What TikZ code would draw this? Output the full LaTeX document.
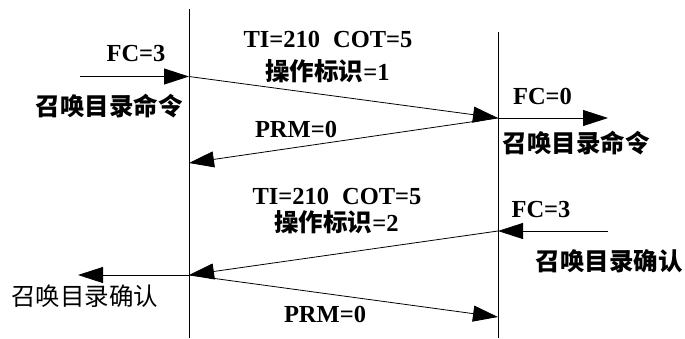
\documentclass[tikz,border=0pt]{standalone}
\usepackage{fontspec}
\setmainfont{Liberation Serif}
\newfontfamily\cjk{Noto Sans CJK SC}
\usetikzlibrary{arrows.meta}
\begin{document}
\begin{tikzpicture}[x=1pt,y=-1pt,
  lane/.style={line width=0.8pt},
  msg/.style={line width=0.8pt,-{Triangle[length=25pt,width=16pt]}},
  lbl/.style={inner sep=0pt,font=\fontsize{24.5}{28}\selectfont\bfseries},
  cjkb/.style={inner sep=0pt,font=\fontsize{24.5}{28}\selectfont\cjk\bfseries},
  cjkr/.style={inner sep=0pt,font=\fontsize{24.5}{28}\selectfont\cjk}]
\useasboundingbox (0,0) rectangle (685,338);
% lanes
\coordinate (Ltop) at (189,9);
\coordinate (Lbot) at (189,338);
\coordinate (Rtop) at (498,32);
\coordinate (Rbot) at (498,338);
\draw[lane] (Ltop) -- (Lbot);
\draw[lane] (Rtop) -- (Rbot);
% message points
\coordinate (inA) at (80,76.5);
\coordinate (LA) at (189,76.5);
\coordinate (RA) at (498,118);
\coordinate (outA) at (608,118);
\coordinate (LB) at (189,163);
\coordinate (inC) at (608,231);
\coordinate (RC) at (498,231);
\coordinate (LC) at (189,275);
\coordinate (outC) at (78,275);
\coordinate (RD) at (498,317);
\draw[msg] (inA) -- (LA);
\draw[msg] (LA) -- (RA);
\draw[msg] (RA) -- (outA);
\draw[msg] (RA) -- (LB);
\draw[msg] (inC) -- (RC);
\draw[msg] (RC) -- (LC);
\draw[msg] (LC) -- (outC);
\draw[msg] (LC) -- (RD);
% labels
\node[lbl] (fc3a) at (136,54) {FC=3};
\node[cjkb] (cmdL) at (109,106) {召唤目录命令};
\node[lbl] (ti1) at (328,39) {TI=210\hspace{13pt}COT=5};
\node[lbl] (op1) at (327.5,71) {{\cjk\bfseries 操作标识}=1};
\node[lbl] (fc0) at (542.5,96) {FC=0};
\node[cjkb] (cmdR) at (576,143) {召唤目录命令};
\node[lbl] (prm1) at (296,129) {PRM=0};
\node[lbl] (ti2) at (337,196) {TI=210\hspace{13pt}COT=5};
\node[lbl] (op2) at (336.5,222) {{\cjk\bfseries 操作标识}=2};
\node[lbl] (fc3b) at (541,210) {FC=3};
\node[cjkb] (ackR) at (609,261) {召唤目录确认};
\node[cjkr] (ackL) at (84.5,296) {召唤目录确认};
\node[lbl] (prm2) at (325,314) {PRM=0};
\end{tikzpicture}
\end{document}
